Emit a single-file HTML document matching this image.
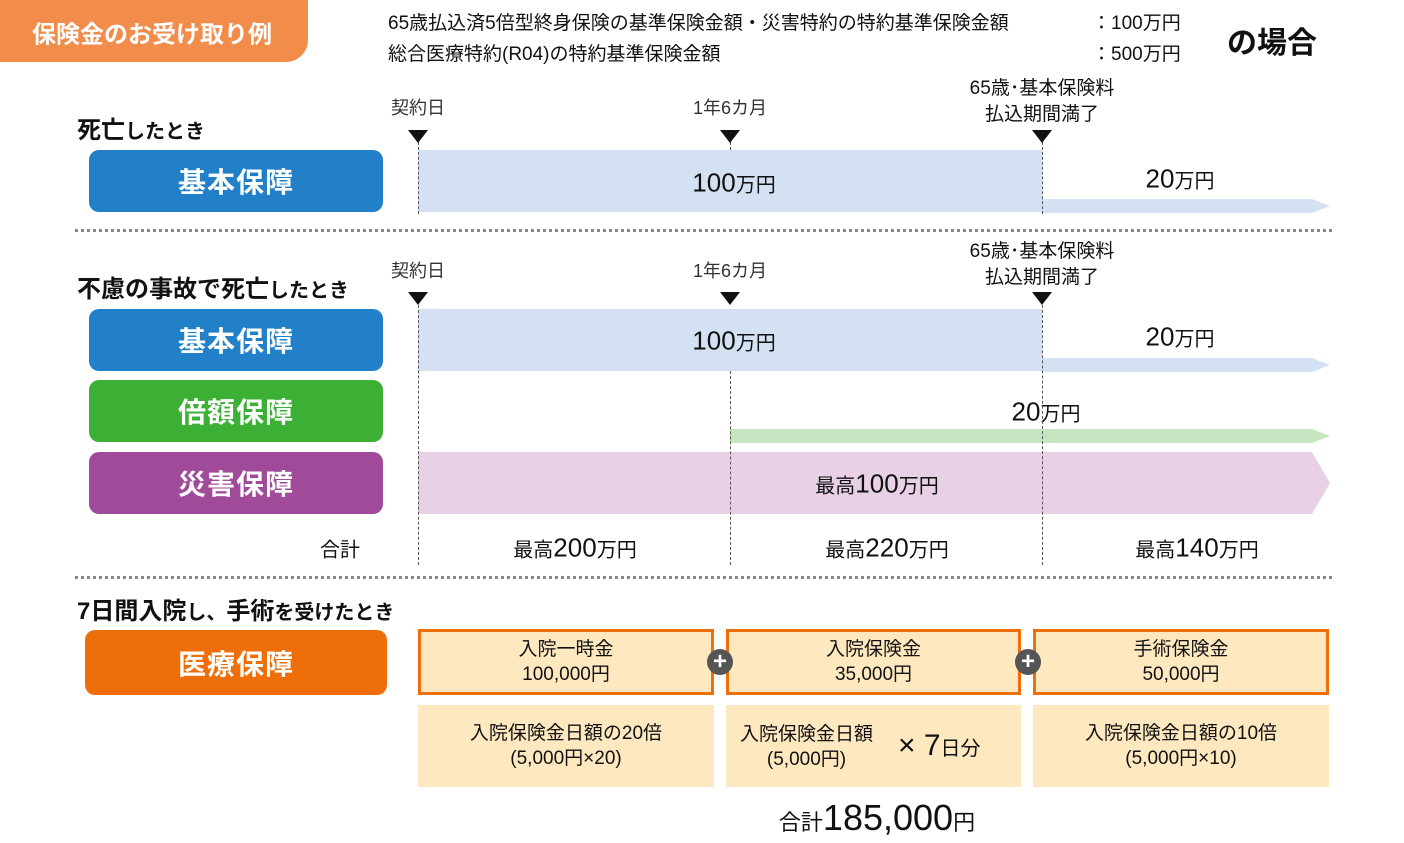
<!DOCTYPE html>
<html><head><meta charset="utf-8"><style>
body{margin:0;width:1404px;height:843px;background:#fff;position:relative;overflow:hidden;font-family:"Liberation Sans","Noto Sans CJK JP",sans-serif;color:#111}
.a{position:absolute}
.t{position:absolute;white-space:nowrap;transform:translate(-50%,-50%)}
.btn{position:absolute;border-radius:10px;color:#fff;font-size:28px;font-weight:bold;display:flex;align-items:center;justify-content:center;letter-spacing:1px}
.dot{position:absolute;left:75px;width:1257px;border-top:3px dotted #888}
.vl{position:absolute;width:0;border-left:1px dashed #555}
.tri{position:absolute;width:0;height:0;border-left:10px solid transparent;border-right:10px solid transparent;border-top:13px solid #111}
.box{position:absolute;background:#fde8c0;box-sizing:border-box;text-align:center;font-size:19px;line-height:25px;display:flex;flex-direction:column;justify-content:center}
.ob{border:3px solid #ee6f0a}
.plus{position:absolute;width:26px;height:26px;border-radius:50%;background:#555;color:#fff;font-size:24px;font-weight:bold;line-height:26px;text-align:center}
.s{font-size:20px}
</style></head><body>
<div class="a" style="left:0;top:0;width:308px;height:62px;background:#f28c4b;border-radius:0 0 22px 0"></div>
<div class="t" style="left:152px;top:32px;color:#fff;font-size:24px;font-weight:bold">保険金のお受け取り例</div>
<div class="a" style="left:388px;top:8px;font-size:19px">65歳払込済5倍型終身保険の基準保険金額・災害特約の特約基準保険金額</div>
<div class="a" style="left:1092px;top:8px;font-size:19px">：100万円</div>
<div class="a" style="left:388px;top:39px;font-size:19px">総合医療特約(R04)の特約基準保険金額</div>
<div class="a" style="left:1092px;top:39px;font-size:19px">：500万円</div>
<div class="t" style="left:1272px;top:40px;font-size:30px;font-weight:bold">の場合</div>

<div class="a" style="left:77px;top:110px;font-size:24px;font-weight:bold">死亡<span class="s">したとき</span></div>
<div class="btn" style="left:89px;top:150px;width:294px;height:62px;background:#2180c7">基本保障</div>

<div class="t" style="left:418px;top:107px;font-size:18px;color:#333">契約日</div>
<div class="t" style="left:730px;top:107px;font-size:18px;color:#333">1年6カ月</div>
<div class="t" style="left:1042px;top:102px;font-size:19px;text-align:center;line-height:26px">65歳･基本保険料<br>払込期間満了</div>
<div class="tri" style="left:408px;top:130px"></div>
<div class="tri" style="left:720px;top:130px"></div>
<div class="tri" style="left:1032px;top:130px"></div>
<div class="a" style="left:418px;top:150px;width:624px;height:62px;background:#d4e1f2"></div>
<svg class="a" style="left:1042px;top:199px" width="290" height="14"><polygon points="0,0 270,0 288,7 270,14 0,14" fill="#d4e1f2"/></svg>
<div class="t" style="left:734px;top:183px;font-size:26px">100<span class="s">万円</span></div>
<div class="t" style="left:1180px;top:179px;font-size:26px">20<span class="s">万円</span></div>
<div class="vl" style="left:418px;top:142px;height:72px"></div>
<div class="vl" style="left:730px;top:142px;height:8px"></div>
<div class="vl" style="left:1042px;top:142px;height:72px"></div>

<div class="dot" style="top:229px"></div>

<div class="a" style="left:77px;top:269px;font-size:24px;font-weight:bold">不慮の事故で死亡<span class="s">したとき</span></div>
<div class="t" style="left:418px;top:270px;font-size:18px;color:#333">契約日</div>
<div class="t" style="left:730px;top:270px;font-size:18px;color:#333">1年6カ月</div>
<div class="t" style="left:1042px;top:265px;font-size:19px;text-align:center;line-height:26px">65歳･基本保険料<br>払込期間満了</div>
<div class="tri" style="left:408px;top:292px"></div>
<div class="tri" style="left:720px;top:292px"></div>
<div class="tri" style="left:1032px;top:292px"></div>

<div class="btn" style="left:89px;top:309px;width:294px;height:62px;background:#2180c7">基本保障</div>
<div class="btn" style="left:89px;top:380px;width:294px;height:62px;background:#3cb035">倍額保障</div>
<div class="btn" style="left:89px;top:452px;width:294px;height:62px;background:#a04b9a">災害保障</div>

<div class="a" style="left:418px;top:309px;width:624px;height:62px;background:#d4e1f2"></div>
<svg class="a" style="left:1042px;top:358px" width="290" height="14"><polygon points="0,0 270,0 288,7 270,14 0,14" fill="#d4e1f2"/></svg>
<svg class="a" style="left:730px;top:429px" width="602" height="14"><polygon points="0,0 582,0 600,7 582,14 0,14" fill="#c6e5c0"/></svg>
<svg class="a" style="left:418px;top:452px" width="914" height="62"><polygon points="0,0 894,0 912,31 894,62 0,62" fill="#e8d0e6"/></svg>
<div class="t" style="left:734px;top:341px;font-size:26px">100<span class="s">万円</span></div>
<div class="t" style="left:1180px;top:337px;font-size:26px">20<span class="s">万円</span></div>
<div class="t" style="left:1046px;top:412px;font-size:26px">20<span class="s">万円</span></div>
<div class="t" style="left:877px;top:484px;font-size:26px"><span class="s">最高</span>100<span class="s">万円</span></div>

<div class="vl" style="left:418px;top:305px;height:260px"></div>
<div class="vl" style="left:730px;top:371px;height:194px"></div>
<div class="vl" style="left:1042px;top:305px;height:260px"></div>

<div class="t" style="left:340px;top:548px;font-size:20px">合計</div>
<div class="t" style="left:575px;top:548px;font-size:26px"><span class="s">最高</span>200<span class="s">万円</span></div>
<div class="t" style="left:887px;top:548px;font-size:26px"><span class="s">最高</span>220<span class="s">万円</span></div>
<div class="t" style="left:1197px;top:548px;font-size:26px"><span class="s">最高</span>140<span class="s">万円</span></div>

<div class="dot" style="top:576px"></div>

<div class="a" style="left:77px;top:591px;font-size:24px;font-weight:bold">7日間入院<span class="s">し、</span>手術<span class="s">を受けたとき</span></div>
<div class="btn" style="left:85px;top:630px;width:302px;height:65px;background:#ee6f0a">医療保障</div>

<div class="box ob" style="left:418px;top:629px;width:296px;height:66px"><div>入院一時金</div><div>100,000円</div></div>
<div class="box ob" style="left:726px;top:629px;width:295px;height:66px"><div>入院保険金</div><div>35,000円</div></div>
<div class="box ob" style="left:1033px;top:629px;width:296px;height:66px"><div>手術保険金</div><div>50,000円</div></div>
<div class="plus" style="left:707px;top:649px">+</div>
<div class="plus" style="left:1015px;top:649px">+</div>

<div class="box" style="left:418px;top:705px;width:296px;height:82px"><div>入院保険金日額の20倍</div><div>(5,000円×20)</div></div>
<div class="box" style="left:726px;top:705px;width:295px;height:82px"></div>
<div class="a" style="left:740px;top:722px;font-size:19px;line-height:25px;text-align:center">入院保険金日額<br>(5,000円)</div>
<div class="a" style="left:898px;top:729px;font-size:30px">× 7<span class="s">日分</span></div>
<div class="box" style="left:1033px;top:705px;width:296px;height:82px"><div>入院保険金日額の10倍</div><div>(5,000円×10)</div></div>

<div class="t" style="left:877px;top:818px;font-size:36px"><span style="font-size:22px">合計</span>185,000<span style="font-size:22px">円</span></div>
</body></html>
